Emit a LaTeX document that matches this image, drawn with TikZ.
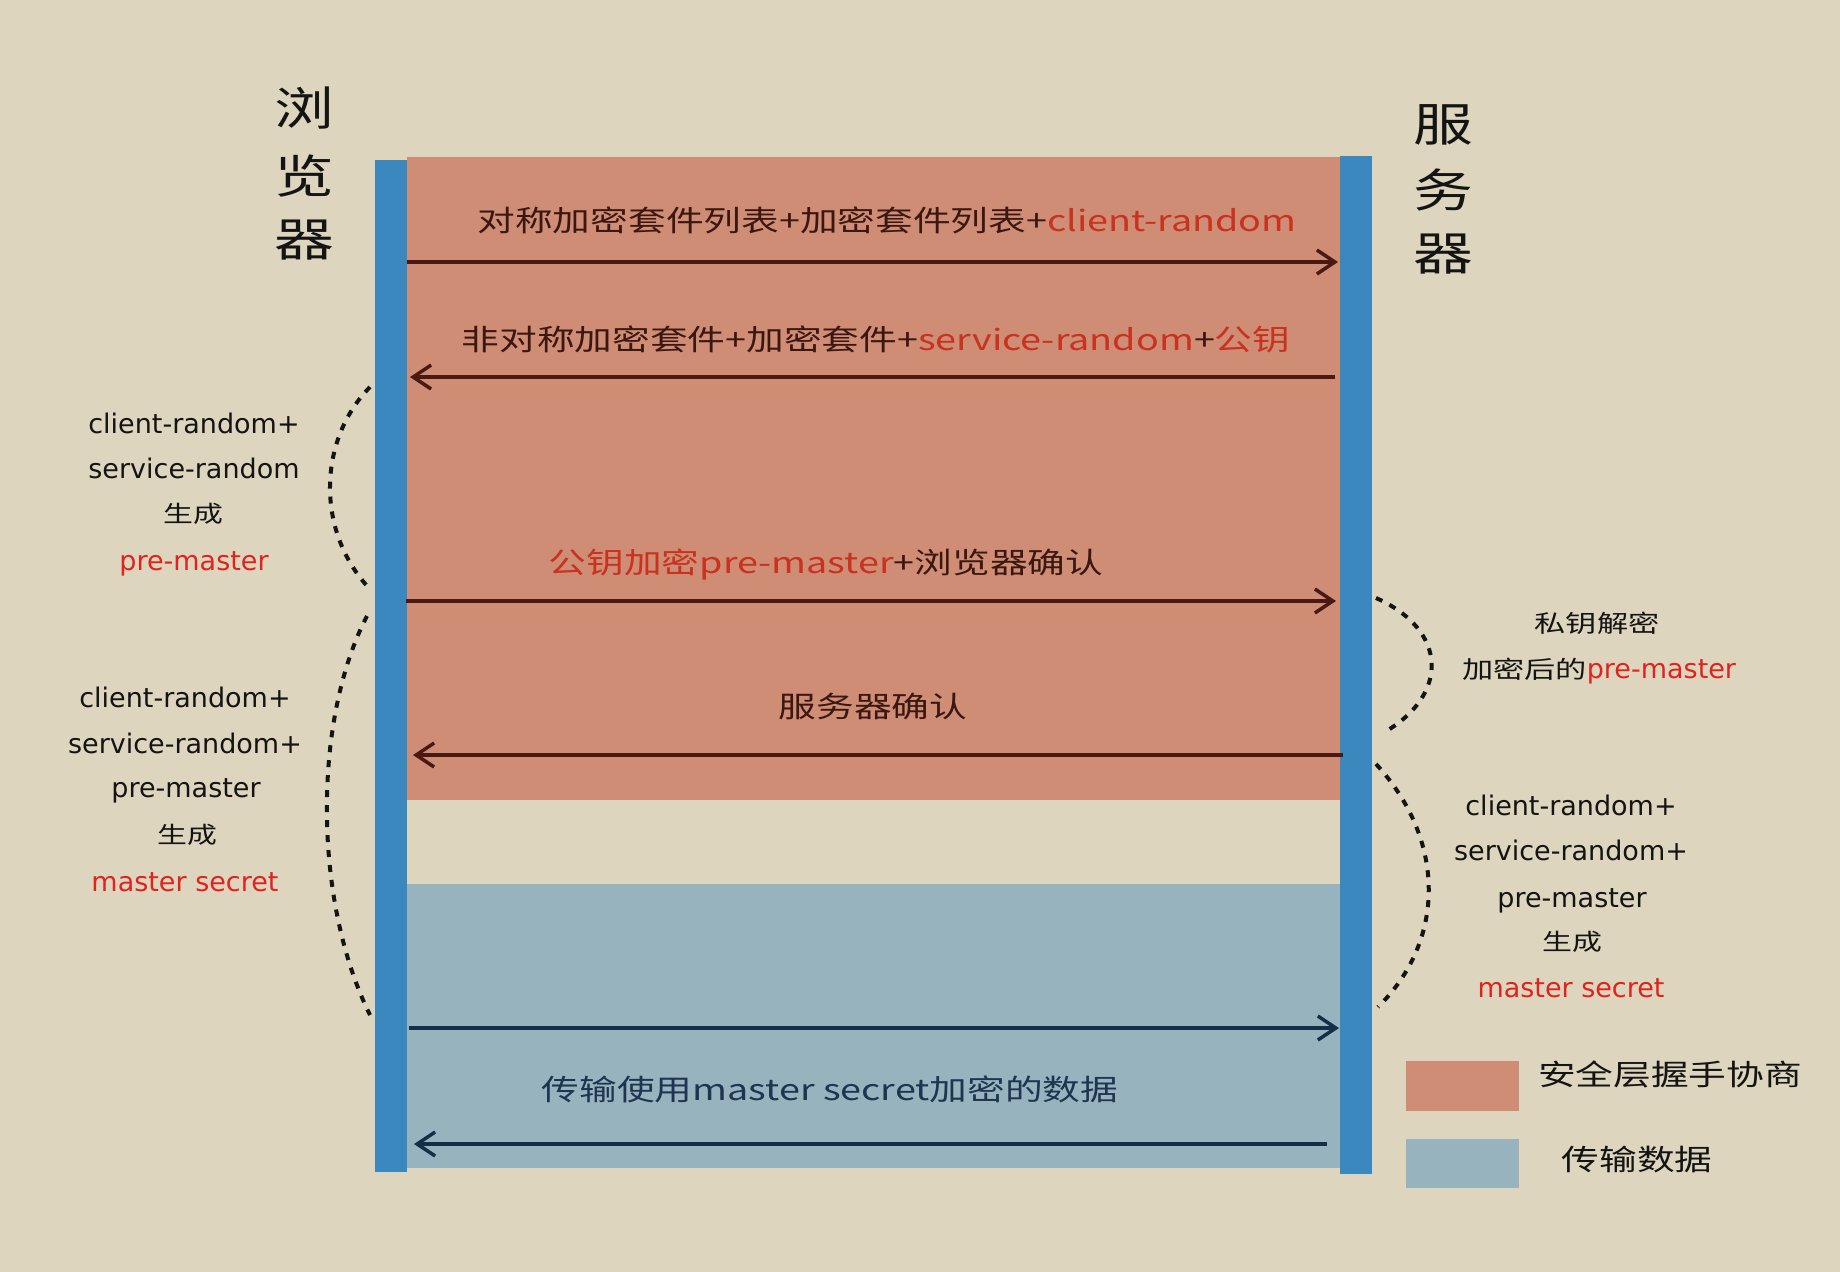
\documentclass[tikz,border=0pt]{standalone}
\usepackage{fontspec}
\setmainfont{Noto Sans CJK SC}
\newfontfamily\arrowfont[FakeStretch=1.3]{Noto Sans CJK SC}
\newfontfamily\sidefont{DejaVu Sans}
\newfontfamily\sidecjk[FakeStretch=1.3]{Noto Sans CJK SC}
\usetikzlibrary{arrows.meta}
\definecolor{bgc}{HTML}{DDD5BD}
\definecolor{redreg}{HTML}{CF8D76}
\definecolor{bluereg}{HTML}{97B4BE}
\definecolor{barc}{HTML}{3B88BE}
\definecolor{brownarr}{HTML}{4A1A12}
\definecolor{navyarr}{HTML}{152E48}
\definecolor{dk}{HTML}{3B1711}
\definecolor{rd}{HTML}{C8321E}
\definecolor{sred}{HTML}{E0231E}
\definecolor{navytxt}{HTML}{1D3550}
\definecolor{blk}{HTML}{141414}
\begin{document}
\begin{tikzpicture}[x=1pt,y=-1pt,
  lbl/.style={inner sep=0pt, anchor=base},
  arrlbl/.style={lbl, font=\arrowfont\fontsize{29}{34}\selectfont},
  sidelbl/.style={lbl, text=blk, font=\sidefont\fontsize{27}{32}\selectfont},
  sidecjklbl/.style={lbl, text=blk, font=\sidecjk\fontsize{23}{28}\selectfont},
  titlechar/.style={inner sep=0pt, anchor=center, text=blk, font=\arrowfont\fontsize{46}{50}\selectfont},
  leglbl/.style={lbl, text=blk, font=\arrowfont\fontsize{29}{34}\selectfont},
  brownarrow/.style={draw=brownarr, line width=3.5pt, -{Straight Barb[length=18pt,width=24pt]}},
  navyarrow/.style={draw=navyarr, line width=3.5pt, -{Straight Barb[length=18pt,width=24pt]}},
  dotarc/.style={draw=blk, line width=4pt, dash pattern=on 7pt off 8pt}
]
\useasboundingbox (0,0) rectangle (1840,1272);
\fill[bgc] (0,0) rectangle (1840,1272);
% regions
\fill[redreg] (407,157) rectangle (1340,800);
\fill[bluereg] (407,884) rectangle (1340,1168);
% lifelines
\fill[barc] (375,160) rectangle (407,1172);
\fill[barc] (1340,156) rectangle (1372,1174);

% titles
\node[titlechar] (br1) at (304,108) {浏};
\node[titlechar] (br2) at (304,176) {览};
\node[titlechar] (br3) at (304,240) {器};
\node[titlechar] (sv1) at (1443,125) {服};
\node[titlechar] (sv2) at (1443,190) {务};
\node[titlechar] (sv3) at (1443,254) {器};

% arrow endpoints
\coordinate (a1s) at (407,262);  \coordinate (a1e) at (1338,262);
\coordinate (a2s) at (1335,377); \coordinate (a2e) at (410,377);
\coordinate (a3s) at (406,601);  \coordinate (a3e) at (1336,601);
\coordinate (a4s) at (1343,755); \coordinate (a4e) at (413,755);
\coordinate (a5s) at (409,1028); \coordinate (a5e) at (1339,1028);
\coordinate (a6s) at (1327,1144);\coordinate (a6e) at (414,1144);

\draw[brownarrow] (a1s) -- (a1e);
\draw[brownarrow] (a2s) -- (a2e);
\draw[brownarrow] (a3s) -- (a3e);
\draw[brownarrow] (a4s) -- (a4e);
\draw[navyarrow] (a5s) -- (a5e);
\draw[navyarrow] (a6s) -- (a6e);

% arrow labels
\node[arrlbl, text=dk] (t1) at (887,231) {对称加密套件列表+加密套件列表+\textcolor{rd}{client-random}};
\node[arrlbl, text=dk] (t2) at (876,350) {非对称加密套件+加密套件+\textcolor{rd}{service-random}+\textcolor{rd}{公钥}};
\node[arrlbl, text=dk] (t3) at (826,573) {\textcolor{rd}{公钥加密pre-master}+浏览器确认};
\node[arrlbl, text=dk] (t4) at (873,717) {服务器确认};
\node[arrlbl, text=navytxt] (t6) at (830,1100) {传输使用master secret加密的数据};

% left annotations
\node[sidelbl] (lA1) at (194,433) {client-random+};
\node[sidelbl] (lA2) at (194,478) {service-random};
\node[sidecjklbl] (lA3) at (193,522) {生成};
\node[sidelbl, text=sred] (lA4) at (194,570) {pre-master};

\node[sidelbl] (lB1) at (185,707) {client-random+};
\node[sidelbl] (lB2) at (185,753) {service-random+};
\node[sidelbl] (lB3) at (186,797) {pre-master};
\node[sidecjklbl] (lB4) at (187,843) {生成};
\node[sidelbl, text=sred] (lB5) at (185,891) {master secret};

% right annotations
\node[sidecjklbl, font=\sidecjk\fontsize{24}{28}\selectfont] (rA1) at (1597,632) {私钥解密};
\node[lbl, text=blk] (rA2) at (1599,678) {{\sidecjk\fontsize{24}{28}\selectfont 加密后的}{\sidefont\fontsize{27}{32}\selectfont\color{sred}pre-master}};

\node[sidelbl] (rB1) at (1571,815) {client-random+};
\node[sidelbl] (rB2) at (1571,860) {service-random+};
\node[sidelbl] (rB3) at (1572,907) {pre-master};
\node[sidecjklbl] (rB4) at (1572,950) {生成};
\node[sidelbl, text=sred] (rB5) at (1571,997) {master secret};

% dotted braces
\draw[dotarc] (370,387) .. controls (318,440) and (316,530) .. (368,587);
\draw[dotarc] (367,616) .. controls (313,720) and (313,900) .. (370,1015);
\draw[dotarc] (1376,598) .. controls (1448,630) and (1450,695) .. (1383,733);
\draw[dotarc] (1376,764) .. controls (1446,840) and (1446,940) .. (1378,1007);

% legend
\fill[redreg] (1406,1061) rectangle (1519,1111);
\fill[bluereg] (1406,1139) rectangle (1519,1188);
\node[leglbl] (lg1) at (1670,1085) {安全层握手协商};
\node[leglbl] (lg2) at (1637,1170) {传输数据};
\end{tikzpicture}
\end{document}
